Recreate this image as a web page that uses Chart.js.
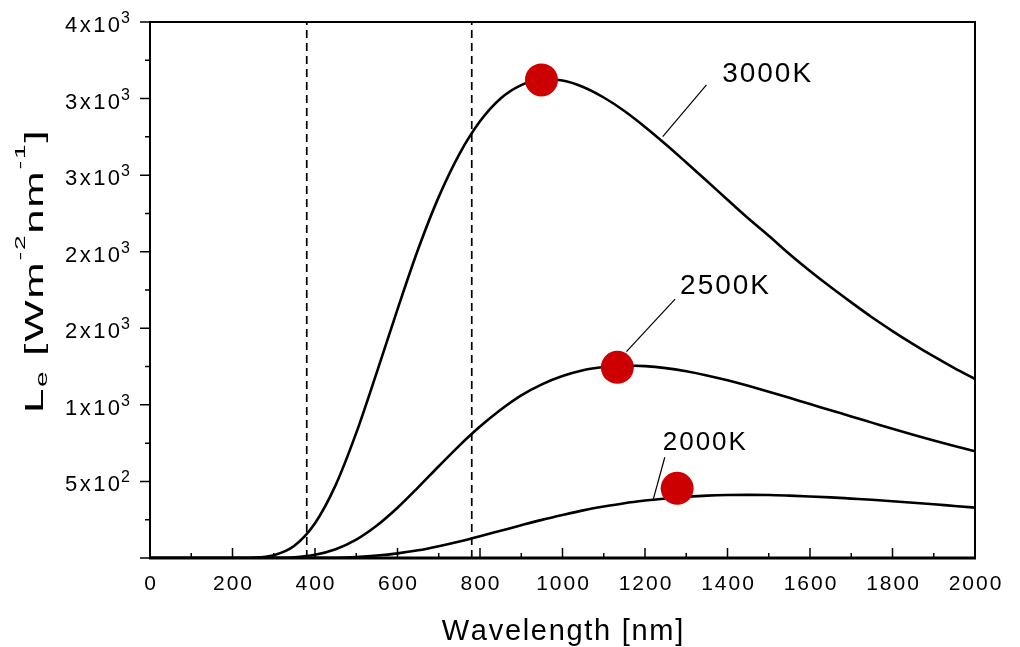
<!DOCTYPE html>
<html>
<head>
<meta charset="utf-8">
<script src="https://cdn.jsdelivr.net/npm/chart.js@4/dist/chart.umd.min.js"></script>
<style>
  html, body { margin: 0; padding: 0; background: #fff; }
  #wrap { width: 1020px; height: 647px; }
</style>
</head>
<body>
<div id="wrap"><canvas id="chart" width="1020" height="647"></canvas></div>
<script>
// wavelength samples [nm], shared by the three curves
const wavelengths = [0, 100, 200, 250, 300, 350, 400, 450, 500, 550, 600, 650, 700, 750, 800,
  850, 900, 950, 1000, 1050, 1100, 1150, 1200, 1250, 1300, 1350, 1400, 1450, 1500,
  1550, 1600, 1650, 1700, 1750, 1800, 1850, 1900, 1950, 2000];

// spectral exitance L_e [W m^-2 nm^-1]
const le3000 = [0, 0, 0, 2, 18, 80, 227, 476, 817, 1214, 1624, 2016, 2358, 2638, 2852,
  3001, 3088, 3126, 3118, 3076, 3007, 2919, 2815, 2702, 2583, 2462, 2339, 2218, 2104,
  1985, 1874, 1769, 1669, 1572, 1482, 1397, 1316, 1240, 1169];
const le2500 = [0, 0, 0, 0, 1, 5, 21, 57, 120, 212, 328, 461, 599, 734, 858,
  968, 1062, 1134, 1188, 1226, 1247, 1257, 1253, 1240, 1219, 1192, 1160, 1124, 1086,
  1046, 1005, 965, 924, 884, 844, 805, 768, 732, 697];
const le2000 = [0, 0, 0, 0, 0, 0, 1, 2, 7, 16, 30, 50, 77, 108, 142,
  178, 214, 249, 281, 311, 336, 358, 375, 389, 399, 407, 411, 412, 411,
  407, 402, 396, 388, 380, 371, 361, 351, 340, 329];

// red peak markers
const markerX = [949, 1133, 1278];
const markerY = [3122, 1245, 455];

// visible band limits (dashed verticals)
const bandLimits = [380, 780];

// curve labels and their leader lines (data units)
const curveNames = ['3000K', '2500K', '2000K'];
const labelX = [1387, 1285, 1243];
const labelY = [3109, 1724, 705];
const leaderFrom = [[1243, 2752], [1155, 1347], [1220, 383]];
const leaderTo = [[1349, 3089], [1273, 1690], [1248, 658]];

// axis ticks
const xTicks = [0, 200, 400, 600, 800, 1000, 1200, 1400, 1600, 1800, 2000];
const yTicks = [500, 1000, 1500, 2000, 2500, 3000, 3500];
const yTickMant = ['5', '1', '2', '2', '3', '3', '4'];
const yTickExp = ['2', '3', '3', '3', '3', '3', '3'];

const FONT = '"Liberation Sans", Arial, Helvetica, sans-serif';

const toXY = (xs, ys) => xs.map((x, i) => ({ x: x, y: ys[i] }));

function spacedWidth(ctx, text, gap) {
  let w = 0;
  for (const ch of text) w += ctx.measureText(ch).width + gap;
  return w - gap;
}
function drawSpaced(ctx, text, x, y, gap) {
  for (const ch of text) {
    ctx.fillText(ch, x, y);
    x += ctx.measureText(ch).width + gap;
  }
  return x;
}

const datasets = [];
datasets.push({
  data: toXY(markerX, markerY),
  showLine: false,
  pointRadius: 16.5,
  pointBackgroundColor: '#cc0000',
  pointBorderWidth: 0
});
leaderFrom.forEach((p, i) => {
  datasets.push({
    data: [{ x: p[0], y: p[1] }, { x: leaderTo[i][0], y: leaderTo[i][1] }],
    borderColor: '#000',
    borderWidth: 1.2,
    pointRadius: 0
  });
});
[le3000, le2500, le2000].forEach(vals => {
  datasets.push({
    data: toXY(wavelengths, vals),
    borderColor: '#000',
    borderWidth: 2.6,
    pointRadius: 0,
    cubicInterpolationMode: 'monotone'
  });
});
bandLimits.forEach(w => {
  datasets.push({
    data: [{ x: w, y: 0 }, { x: w, y: 3500 }],
    borderColor: '#000',
    borderWidth: 1.7,
    borderDash: [8, 5],
    pointRadius: 0
  });
});

// box, ticks and all hand placed text
const decorations = {
  id: 'decorations',
  afterDatasetsDraw(chart) {
    const { ctx, chartArea: a, scales: { x, y } } = chart;
    ctx.save();
    ctx.strokeStyle = '#000';
    ctx.lineWidth = 1.5;
    ctx.beginPath();
    for (let v = 0; v <= 3500; v += 250) {
      const py = y.getPixelForValue(v);
      const len = v % 500 === 0 ? 10 : 5;
      ctx.moveTo(a.left - len, py);
      ctx.lineTo(a.left, py);
    }
    for (let v = 0; v <= 2000; v += 100) {
      const px = x.getPixelForValue(v);
      const len = v % 200 === 0 ? 10 : 5;
      ctx.moveTo(px, a.bottom);
      ctx.lineTo(px, a.bottom - len);
    }
    ctx.stroke();

    ctx.lineWidth = 2;
    ctx.strokeRect(a.left, a.top, a.right - a.left, a.bottom - a.top);
    ctx.lineWidth = 3;
    ctx.beginPath();
    ctx.moveTo(a.left - 1, a.bottom);
    ctx.lineTo(a.right + 1, a.bottom);
    ctx.stroke();
    ctx.restore();
  },
  afterDraw(chart) {
    const { ctx, chartArea: a, scales: { x, y } } = chart;
    ctx.save();
    ctx.fillStyle = '#000';
    ctx.textAlign = 'left';
    ctx.textBaseline = 'alphabetic';

    // x tick labels
    ctx.font = '21px ' + FONT;
    xTicks.forEach(v => {
      const s = String(v);
      const w = spacedWidth(ctx, s, 2);
      drawSpaced(ctx, s, x.getPixelForValue(v) - w / 2, 590, 2);
    });

    // y tick labels like 4x10^3
    yTicks.forEach((v, i) => {
      const py = y.getPixelForValue(v);
      ctx.font = '22px ' + FONT;
      const main = yTickMant[i] + 'x10';
      const wMain = spacedWidth(ctx, main, 2.5);
      ctx.font = '16px ' + FONT;
      const wExp = ctx.measureText(yTickExp[i]).width;
      let px = a.left - 20 - wMain - 1 - wExp;
      ctx.font = '22px ' + FONT;
      px = drawSpaced(ctx, main, px, py + 10, 2.5);
      ctx.font = '16px ' + FONT;
      ctx.fillText(yTickExp[i], px - 1.5, py + 1);
    });

    // x axis title
    ctx.font = '29px ' + FONT;
    const xt = 'Wavelength [nm]';
    const wx = spacedWidth(ctx, xt, 1.7);
    drawSpaced(ctx, xt, (a.left + a.right) / 2 - wx / 2, 640, 1.7);

    // y axis title, rotated, with sub/superscripts
    ctx.save();
    ctx.translate(43, 413);
    ctx.rotate(-Math.PI / 2);
    ctx.scale(1.75, 1);
    const parts = [
      ['L', 25, 0], ['e', 16, 4], [' [Wm', 25, 0], ['-2', 15, -18],
      ['nm', 25, 0], ['-1', 15, -18], [']', 25, 0]
    ];
    let tx = 0;
    parts.forEach(p => {
      ctx.font = p[1] + 'px ' + FONT;
      tx = drawSpaced(ctx, p[0], tx, p[2], 1);
    });
    ctx.restore();

    // curve labels
    curveNames.forEach((name, i) => {
      ctx.font = (i === 2 ? 26 : 28) + 'px ' + FONT;
      drawSpaced(ctx, name, x.getPixelForValue(labelX[i]), y.getPixelForValue(labelY[i]), 2);
    });
    ctx.restore();
  }
};

new Chart(document.getElementById('chart'), {
  type: 'line',
  data: { datasets: datasets },
  options: {
    responsive: false,
    devicePixelRatio: 1,
    animation: false,
    layout: { padding: { left: 0, top: 22, right: 45, bottom: 0 } },
    plugins: { legend: { display: false }, tooltip: { enabled: false } },
    scales: {
      x: {
        type: 'linear',
        min: 0,
        max: 2000,
        afterBuildTicks: s => { s.ticks = xTicks.map(v => ({ value: v })); },
        afterFit: s => { s.height = 89; },
        ticks: { display: false },
        grid: { display: false, drawTicks: false },
        border: { display: false }
      },
      y: {
        type: 'linear',
        min: 0,
        max: 3500,
        afterBuildTicks: s => { s.ticks = yTicks.map(v => ({ value: v })); },
        afterFit: s => { s.width = 150; },
        ticks: { display: false },
        grid: { display: false, drawTicks: false },
        border: { display: false }
      }
    }
  },
  plugins: [decorations]
});
</script>
</body>
</html>
